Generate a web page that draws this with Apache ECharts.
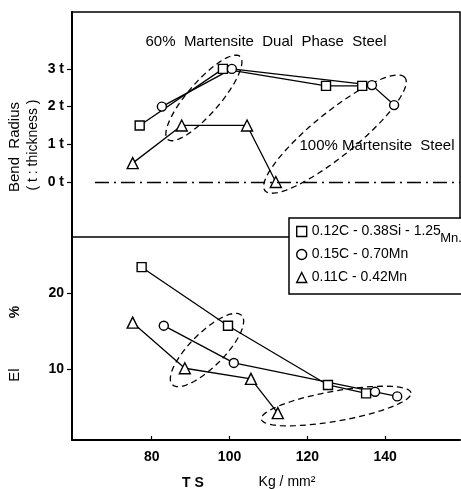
<!DOCTYPE html>
<html>
<head>
<meta charset="utf-8">
<script src="https://cdn.jsdelivr.net/npm/echarts@6/dist/echarts.min.js"></script>
<style>
html,body{margin:0;padding:0;background:#fff;}
#chart{width:461px;height:489px;}
</style>
</head>
<body>
<div id="chart"></div>
<script>
// ---- data ----
const seriesNames = ['0.12C - 0.38Si - 1.25', '0.15C - 0.70Mn', '0.11C - 0.42Mn'];

// Upper panel: bend radius (in t)
const sqTS_bend = [76.9, 98.3, 124.8, 134.1];
const sqBend    = [1.5, 3.0, 2.55, 2.55];
const ciTS_bend = [82.6, 100.6, 136.6, 142.3];
const ciBend    = [2.0, 3.0, 2.57, 2.04];
const trTS_bend = [75.1, 87.7, 104.5, 111.9];
const trBend    = [0.5, 1.5, 1.5, 0.0];

// Lower panel: elongation (%)
const sqTS_el = [77.4, 99.6, 125.3, 135.1];
const sqEl    = [23.4, 15.7, 7.9, 6.8];
const ciTS_el = [83.1, 101.1, 137.4, 143.1];
const ciEl    = [15.7, 10.8, 7.0, 6.4];
const trTS_el = [75.1, 88.5, 105.5, 112.4];
const trEl    = [16.1, 10.1, 8.7, 4.2];

const tsTicks   = [80, 100, 120, 140];
const bendTicks = [0, 1, 2, 3];
const elTicks   = [10, 20];

// dashed group outlines: centre in data units
const bendGroups = [[93.4, 2.23], [127.1, 1.27]];
const elGroups   = [[94.2, 12.5], [127.4, 5.13]];

// ---- chart ----
const FONT = "'Liberation Sans', Arial, sans-serif";
const zip = (a, b) => a.map((v, i) => [v, b[i]]);
const chart = echarts.init(document.getElementById('chart'), null, {renderer: 'canvas'});

const lineStyle = {color: '#000', width: 1.3};
const itemStyle = {color: '#fff', borderColor: '#000', borderWidth: 1.4};
function lineSeries(name, sym, size, data, gi) {
  return {
    name, type: 'line', xAxisIndex: gi, yAxisIndex: gi, data,
    symbol: sym, symbolSize: size, showSymbol: true,
    lineStyle, itemStyle, z: 3, silent: true
  };
}
function ellipseSeries(centres, shapes, gi) {
  return {
    type: 'custom', xAxisIndex: gi, yAxisIndex: gi, silent: true, clip: false, z: 2,
    data: centres.map((c, i) => [c[0], c[1], shapes[i][0], shapes[i][1], shapes[i][2]]),
    encode: {x: 0, y: 1},
    renderItem: function (params, api) {
      const c = api.coord([api.value(0), api.value(1)]);
      const rx = api.value(2), ry = api.value(3), a = api.value(4) * Math.PI / 180;
      const pts = [];
      for (let k = 0; k <= 72; k++) {
        const t = k / 72 * Math.PI * 2;
        const ex = rx * Math.cos(t), ey = ry * Math.sin(t);
        pts.push([c[0] + ex * Math.cos(a) - ey * Math.sin(a), c[1] - (ex * Math.sin(a) + ey * Math.cos(a))]);
      }
      return {type: 'polyline', shape: {points: pts},
        style: {fill: null, stroke: '#000', lineWidth: 1.3, lineDash: [6, 4]}};
    }
  };
}

const xMin = 59.5, xMax = 159.24;
const labelStyle = {color: '#000', fontFamily: FONT, fontSize: 14, fontWeight: 'bold'};
function txt(text, x, y, size, rot, weight) {
  return {type: 'text', x, y, rotation: rot || 0, z: 20,
    style: {text, fill: '#000', font: (weight || 'normal') + ' ' + size + 'px ' + FONT, textAlign: 'center', textVerticalAlign: 'middle'}};
}

const option = {
  animation: false,
  backgroundColor: '#fff',
  grid: [
    {left: 72, top: 12, width: 388, height: 225, show: true, borderColor: '#000', borderWidth: 1.5, backgroundColor: 'transparent'},
    {left: 72, top: 237, width: 388, height: 203}
  ],
  xAxis: [
    {gridIndex: 0, type: 'value', min: xMin, max: xMax, show: false},
    {gridIndex: 1, type: 'value', min: xMin, max: xMax,
      axisLine: {show: true, lineStyle: {color: '#000', width: 2}},
      axisTick: {show: true, inside: true, length: 4, customValues: tsTicks, lineStyle: {color: '#000', width: 1.2}},
      axisLabel: Object.assign({customValues: tsTicks, margin: 10}, labelStyle),
      splitLine: {show: false}}
  ],
  yAxis: [
    {gridIndex: 0, type: 'value', min: -1.46, max: 4.51,
      axisLine: {show: true, lineStyle: {color: '#000', width: 2}},
      axisTick: {show: true, length: 5, customValues: bendTicks, lineStyle: {color: '#000', width: 1.2}},
      axisLabel: Object.assign({customValues: bendTicks, margin: 8, formatter: v => v + ' t'}, labelStyle),
      splitLine: {show: false}},
    {gridIndex: 1, type: 'value', min: 0.66, max: 27.37,
      axisLine: {show: true, lineStyle: {color: '#000', width: 2}},
      axisTick: {show: true, length: 5, customValues: elTicks, lineStyle: {color: '#000', width: 1.2}},
      axisLabel: Object.assign({customValues: elTicks, margin: 8}, labelStyle),
      splitLine: {show: false}}
  ],
  legend: {
    left: 296, top: 224, orient: 'vertical', itemGap: 8, itemWidth: 10, itemHeight: 10, padding: 0,
    selectedMode: false, z: 30,
    data: [{name: seriesNames[0], icon: 'rect'}, {name: seriesNames[1], icon: 'circle'}, {name: seriesNames[2], icon: 'triangle'}],
    itemStyle: {color: '#fff', borderColor: '#000', borderWidth: 1.4},
    textStyle: {color: '#000', fontFamily: FONT, fontSize: 14, fontWeight: 'normal', lineHeight: 15}
  },
  graphic: [
    {type: 'rect', shape: {x: 289, y: 218, width: 200, height: 76}, z: 15,
      style: {fill: '#fff', stroke: '#000', lineWidth: 1.5}},
    txt('60%  Martensite  Dual  Phase  Steel', 266, 42, 15),
    txt('100% Martensite  Steel', 377, 146, 15),
    txt('Bend  Radius', 15, 147, 15, Math.PI / 2),
    txt('( t : thickness )', 33, 145, 14, Math.PI / 2),
    txt('%', 15, 312, 14, Math.PI / 2, 'bold'),
    txt('El', 15, 375, 15, Math.PI / 2),
    txt('T S', 193, 483, 14, 0, 'bold'),
    txt('Kg / mm\u00B2', 287, 482, 14),
    txt('Mn.', 451, 238, 13)
  ],
  series: [
    ellipseSeries(bendGroups, [[55, 16, 49], [90, 22, 39]], 0),
    ellipseSeries(elGroups, [[49, 17, 45], [76, 15, 10]], 1),
    Object.assign(lineSeries(seriesNames[2], 'triangle', 11, zip(trTS_bend, trBend), 0), {
      markLine: {symbol: 'none', silent: true, label: {show: false},
        lineStyle: {color: '#000', width: 1.3, type: [14, 5, 2, 5]},
        data: [[{coord: [65.4, 0]}, {coord: [xMax, 0]}]]}
    }),
    lineSeries(seriesNames[0], 'rect', 9, zip(sqTS_bend, sqBend), 0),
    lineSeries(seriesNames[1], 'circle', 9, zip(ciTS_bend, ciBend), 0),
    lineSeries(seriesNames[0], 'rect', 9, zip(sqTS_el, sqEl), 1),
    lineSeries(seriesNames[1], 'circle', 9, zip(ciTS_el, ciEl), 1),
    lineSeries(seriesNames[2], 'triangle', 11, zip(trTS_el, trEl), 1)
  ]
};
chart.setOption(option);
</script>
</body>
</html>
